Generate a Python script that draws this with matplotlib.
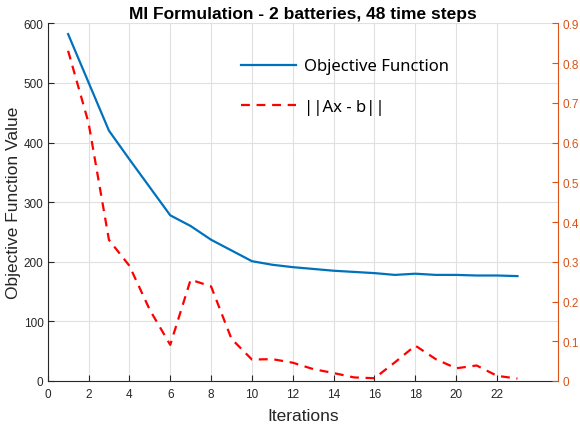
import matplotlib
matplotlib.use("Agg")
from matplotlib import pyplot as plt

iteracoes = list(range(1, 24))
funcao_objetivo = [582, 501, 420, 372, 325, 278, 260, 237, 219, 201, 195, 191,
                   188, 185, 183, 181, 178, 180, 178, 178, 177, 177, 176]
residuo = [0.831, 0.65, 0.355, 0.29, 0.179, 0.091, 0.255, 0.238, 0.106, 0.054,
           0.055, 0.046, 0.030, 0.020, 0.009, 0.007, 0.047, 0.089, 0.055, 0.032,
           0.039, 0.013, 0.006]

azul = "#0072BD"
laranja = "#D95319"
preto = "#262626"

plt.rcParams["font.family"] = ["Liberation Sans", "DejaVu Sans"]

fig = plt.figure(figsize=(5.8, 4.27), dpi=100)
ax = fig.add_axes([0.0822, 0.1054, 0.8804, 0.8375])
ax2 = ax.twinx()

l1, = ax.plot(iteracoes, funcao_objetivo, color=azul, lw=1.6, label="Objective Function")
l2, = ax2.plot(iteracoes, residuo, color="red", lw=1.6, ls=(0, (4, 3)), label="||Ax - b||")

ax.set_xlim(0, 25)
ax.set_ylim(0, 600)
ax2.set_ylim(0, 0.9)
ax.set_xticks(range(0, 23, 2))
ax.set_yticks(range(0, 601, 100))
ax2.set_yticks([i / 10 for i in range(10)])
ax2.set_yticklabels(["0"] + ["%.1f" % (i / 10) for i in range(1, 10)])

ax.grid(True, color="#e0e0e0", lw=0.8)
ax.set_axisbelow(True)

for a in (ax, ax2):
    a.spines["top"].set_visible(False)
ax.spines["right"].set_visible(False)
ax.spines["left"].set_color(preto)
ax.spines["bottom"].set_color(preto)
ax2.spines["left"].set_visible(False)
ax2.spines["bottom"].set_visible(False)
ax2.spines["right"].set_color(laranja)

ax.tick_params(direction="in", length=4, labelsize=8.5, colors=preto, pad=3)
ax.tick_params(axis="x", pad=5)
ax2.tick_params(direction="in", length=4, labelsize=8.5, colors=laranja, pad=3)

ax.set_xlabel("Iterations", fontsize=12.5, color=preto, labelpad=6)
ax.set_ylabel("Objective Function Value", fontsize=12.5, color=preto, labelpad=2)
ax.set_title("MI Formulation - 2 batteries, 48 time steps", fontsize=12.5,
             fontweight="bold", pad=4)

ax2.legend(handles=[l1, l2], loc="upper left", bbox_to_anchor=(0.378, 0.902),
           frameon=False, prop={"family": "Noto Sans", "size": 12},
           handlelength=3.3, handletextpad=0.5, labelspacing=1.45,
           borderpad=0, borderaxespad=0)

fig.savefig("out.png", dpi=100)
